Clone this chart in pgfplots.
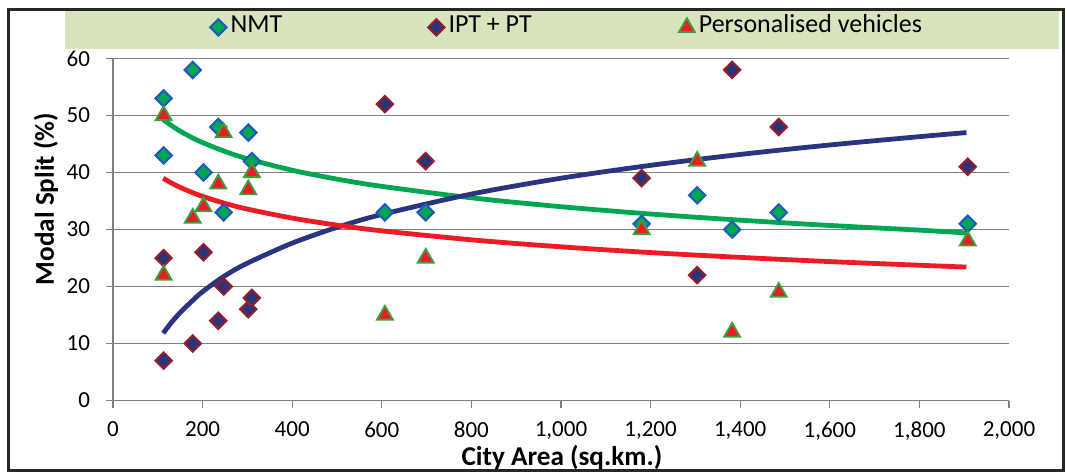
\documentclass[border=0pt]{standalone}
\usepackage{pgfplots}
\pgfplotsset{compat=1.18}
\usepackage{fontspec}
\setmainfont{Carlito}
\definecolor{nmtfill}{RGB}{0,166,81}
\definecolor{nmtedge}{RGB}{30,90,190}
\definecolor{iptfill}{RGB}{43,52,120}
\definecolor{iptedge}{RGB}{150,30,40}
\definecolor{pvfill}{RGB}{237,28,36}
\definecolor{pvedge}{RGB}{60,160,60}
\definecolor{trgreen}{RGB}{0,166,81}
\definecolor{trnavy}{RGB}{43,52,128}
\definecolor{trred}{RGB}{237,28,36}
\definecolor{band}{RGB}{215,228,189}
\definecolor{gridgray}{RGB}{128,128,128}
\begin{document}
\begin{tikzpicture}
\useasboundingbox (-56.5pt,-35.75pt) rectangle (477pt,200.25pt);
\fill[band] (-24pt,175.75pt) rectangle (473pt,194.75pt);
\draw[line width=1.5pt, black!85] (-52pt,-34.75pt) rectangle (475pt,195.5pt);
\begin{axis}[
  scale only axis, width=448pt, height=171pt,
  at={(0pt,0pt)}, anchor=south west,
  xmin=0, xmax=2000, ymin=0, ymax=60,
  xtick={0,200,...,2000}, ytick={0,10,...,60},
  axis x line*=bottom, axis y line*=left,
  axis line style={gridgray, line width=0.6pt},
  tick style={gridgray, line width=0.6pt},
  tick align=outside, major tick length=3.5pt,
  ymajorgrids, grid style={gridgray, line width=0.6pt},
  /pgf/number format/assume math mode=true,
  /pgf/number format/1000 sep={,},
  ticklabel style={font=\fontsize{11.5}{13}\selectfont},
  yticklabel style={xshift=-4.5pt},
  xticklabel style={yshift=-3.5pt},
  xlabel={\textbf{City Area (sq.km.)}},
  ylabel={\textbf{Modal Split (\%)}},
  label style={font=\fontsize{13.6}{15}\selectfont},
  xlabel style={at={(axis description cs:0.501,-0.168)}, anchor=center},
  ylabel style={at={(axis description cs:-0.0748,0.589)}, anchor=center},
  legend columns=3,
  legend style={at={(axis description cs:0.1085,1.097)}, anchor=west, draw=none, fill=none,
    inner sep=0pt, outer sep=0pt, font=\fontsize{13}{15}\selectfont,
    nodes={inner sep=0pt},
    /tikz/every odd column/.append style={column sep=2pt},
    /tikz/every even column/.append style={column sep=0pt}},
  legend image code/.code={\draw[#1, only marks] plot coordinates {(0pt,-1pt)};},
]
% trend lines
\addplot[forget plot, trgreen, line width=2.4pt, smooth] coordinates {
(112,49.3) (130,48.26) (150,47.26) (175,46.18) (200,45.25) (250,43.69) (300,42.41) (400,40.40) (500,38.84) (600,37.57) (800,35.56) (1000,34.0) (1200,32.72) (1400,31.64) (1600,30.71) (1800,29.89) (1905,29.4)};
\addplot[forget plot, trnavy, line width=2.4pt, smooth] coordinates {
(112,11.8) (130,13.65) (150,15.43) (175,17.34) (200,19.1) (250,21.9) (300,24.1) (400,27.61) (500,30.38) (600,32.64) (800,36.22) (1000,39.0) (1200,41.26) (1400,43.17) (1600,44.83) (1800,46.29) (1905,47.0)};
\addplot[forget plot, trred, line width=2.4pt, smooth] coordinates {
(112,39.0) (130,38.18) (150,37.39) (175,36.55) (200,35.81) (250,34.58) (300,33.58) (400,32.0) (500,30.77) (600,29.77) (800,28.19) (1000,26.96) (1200,25.95) (1400,25.11) (1600,24.37) (1800,23.73) (1905,23.41)};
% data
\addplot[only marks, mark=square*, mark size=2.9pt, mark options={rotate=45, fill=nmtfill, draw=nmtedge, line width=1pt}] coordinates {
(113,53) (113,43) (178,58) (202,40) (235,48) (247,33) (302,47) (310,42) (607,33) (698,33) (1180,31) (1304,36) (1382,30) (1486,33) (1908,31)};
\addlegendentry{\makebox[98.75pt][l]{NMT}}
\addplot[only marks, mark=square*, mark size=2.9pt, mark options={rotate=45, fill=iptfill, draw=iptedge, line width=1pt}] coordinates {
(113,25) (113,7) (178,10) (202,26) (235,14) (247,20) (302,16) (310,18) (607,52) (698,42) (1180,39) (1304,22) (1382,58) (1486,48) (1908,41)};
\addlegendentry{\makebox[115.2pt][l]{IPT + PT}}
\addplot[only marks, mark=triangle*, mark size=4.6pt, mark options={fill=pvfill, draw=pvedge, line width=0.9pt}] coordinates {
(113,50) (113,22) (178,32) (202,34) (235,38) (247,47) (302,37) (310,40) (607,15) (698,25) (1180,30) (1304,42) (1382,12) (1486,19) (1908,28)};
\addlegendentry{Personalised vehicles}
\end{axis}
\end{tikzpicture}
\end{document}
